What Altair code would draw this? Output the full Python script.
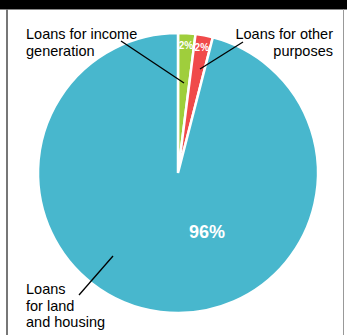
import altair as alt
import pandas as pd

categories = ["Loans for income generation", "Loans for other purposes", "Loans for land and housing"]
shares = [2, 2, 96]
slice_labels = ["2%", "2%", ""]
colors = ["#9fce3c", "#f04a4a", "#48b7cd"]
big_label = ["96%"]

FONT = "Liberation Sans"
CX, CY, R = 178, 173, 140

pie_df = pd.DataFrame({"category": categories, "value": shares,
                       "label": slice_labels, "idx": [0, 1, 2]})

base = alt.Chart(pie_df).encode(
    theta=alt.Theta("value:Q", stack=True),
    order=alt.Order("idx:Q"),
    x=alt.value(CX), y=alt.value(CY),
)
pie = base.mark_arc(outerRadius=R, stroke="white", strokeWidth=2.5).encode(
    color=alt.Color("category:N", scale=alt.Scale(domain=categories, range=colors), legend=None)
)
slice_text = base.mark_text(radius=127, font=FONT, fontSize=10, fontWeight="bold",
                            color="white").encode(text="label:N")

one = pd.DataFrame({"k": [0]})

def txt(label, x, y, align="left", size=14.5, color="black", weight="normal"):
    return alt.Chart(pd.DataFrame({"t": [label]})).mark_text(
        font=FONT, fontSize=size, align=align, baseline="alphabetic",
        lineBreak="\n", lineHeight=16.5, color=color, fontWeight=weight
    ).encode(text="t:N", x=alt.value(x), y=alt.value(y))

def rule(x, y, x2, y2, color="black", w=1.3):
    return alt.Chart(one).mark_rule(color=color, strokeWidth=w).encode(
        x=alt.value(x), y=alt.value(y), x2=alt.value(x2), y2=alt.value(y2))

band = alt.Chart(one).mark_rect(color="black").encode(
    x=alt.value(0), x2=alt.value(347), y=alt.value(0), y2=alt.value(9))

layers = [
    band,
    rule(0, 9.5, 347, 9.5, color="#888888", w=1),
    rule(7, 9, 7, 335, color="#777777", w=2),
    rule(343.5, 9, 343.5, 335, color="#999999", w=1),
    pie,
    slice_text,
    txt(big_label[0], 207, 238, align="center", size=18, color="white", weight="bold"),
    txt("Loans for income\ngeneration", 26, 39),
    txt("Loans for other\npurposes", 333, 39, align="right"),
    txt("Loans\nfor land\nand housing", 26, 294),
    rule(121, 41, 184, 83),
    rule(243, 42, 200, 69),
    rule(113, 256, 79, 295),
]

chart = alt.layer(*layers).properties(
    width=347, height=335, autosize=alt.AutoSizeParams(type="none"), padding=0,
    background="white"
).configure_view(stroke=None)

chart.save("out.html", embed_options={"renderer": "svg", "actions": False})
